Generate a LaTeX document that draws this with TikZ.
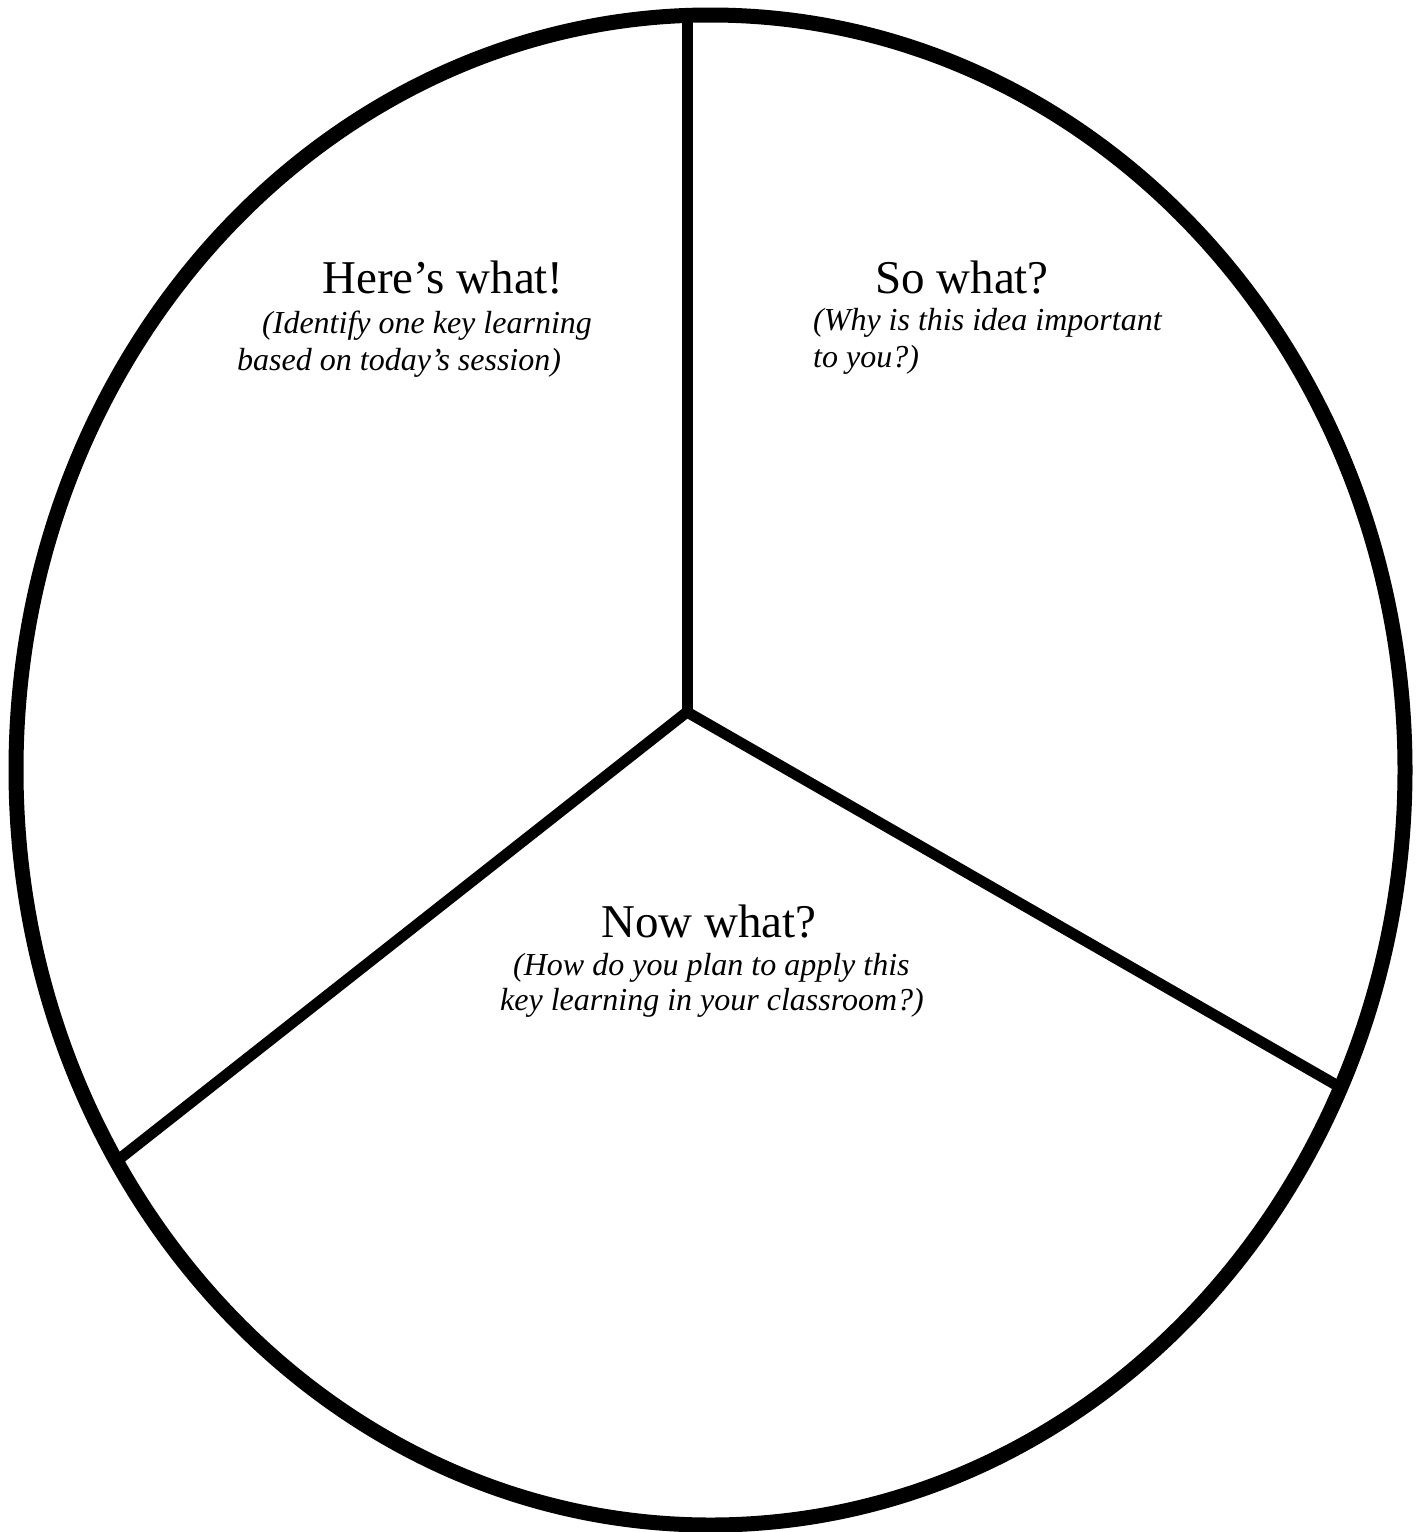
\documentclass[tikz,border=0pt]{standalone}
\usepackage{fontspec}
\setmainfont{Liberation Serif}
\begin{document}
\begin{tikzpicture}[x=1pt,y=-1pt,
  rim/.style={line width=15pt},
  divider/.style={line width=11pt},
  head/.style={anchor=base west,inner sep=0pt,font=\fontsize{47}{56}\selectfont},
  hint/.style={anchor=base west,inner sep=0pt,font=\fontsize{32}{37}\selectfont\itshape}]
\useasboundingbox (0,0) rectangle (1425,1532);
\coordinate (c) at (687,712);
\coordinate (top) at (687,12);
\coordinate (rt) at (1338,1086);
\coordinate (lf) at (118,1160);
\draw[divider] (c) -- (top);
\draw[divider] (c) -- (rt);
\draw[divider] (c) -- (lf);
\draw[rim] (710.5,770) ellipse [x radius=694.5, y radius=755];
\node[head] (h1) at (322,293) {Here’s what!};
\node[hint] (h1a) at (262,333) {(Identify one key learning};
\node[hint] (h1b) at (237,370) {based on today’s session)};
\node[head] (h2) at (875,293) {So what?};
\node[hint] (h2a) at (813,330) {(Why is this idea important};
\node[hint] (h2b) at (813,367) {to you?)};
\node[head] (h3) at (601,937) {Now what?};
\node[hint] (h3a) at (513,975) {(How do you plan to apply this};
\node[hint] (h3b) at (500,1010) {key learning in your classroom?)};
\end{tikzpicture}
\end{document}
